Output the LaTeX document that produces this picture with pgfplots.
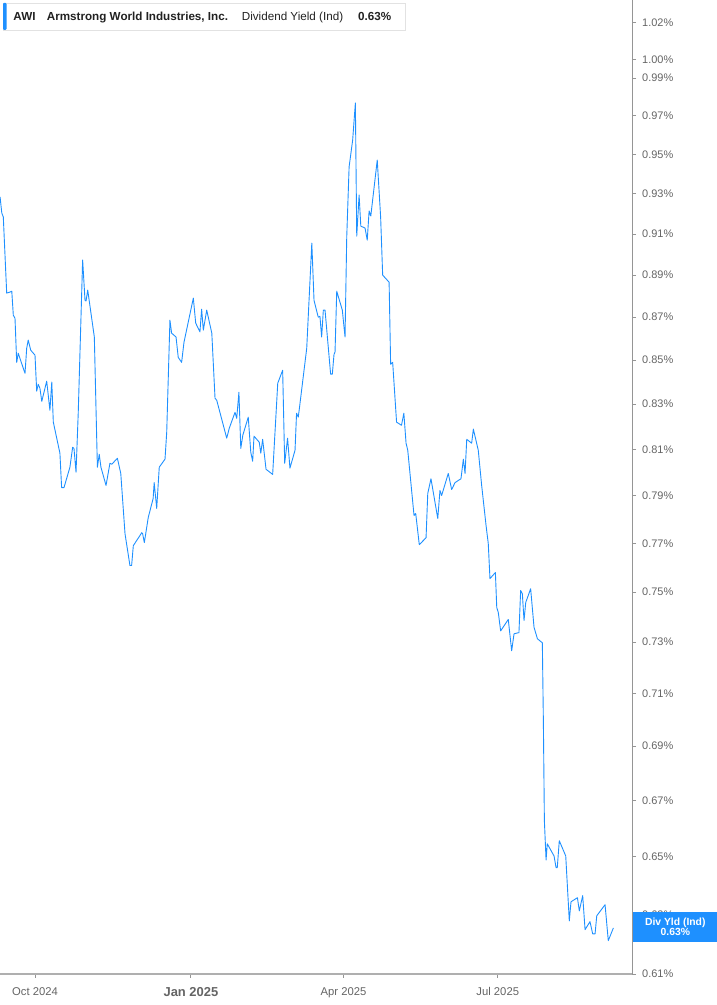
\documentclass[border=0pt]{standalone}
\usepackage{pgfplots}
\usepackage{pgfplotstable}
\pgfplotsset{compat=1.18}
\usepackage{fontspec}
\setmainfont{Liberation Sans}

\definecolor{awiblue}{RGB}{30,144,255}
\definecolor{ticktext}{RGB}{100,100,100}
\definecolor{axisgrey}{RGB}{175,175,175}
\definecolor{boxgrey}{RGB}{226,226,226}

% day = days since 1 Oct 2024, yld = dividend yield in %
\pgfplotstableread{
day yld
-20.6 0.9284
-19.6 0.9204
-18.7 0.9184
-16.7 0.8814
-14.7 0.8819
-13.7 0.8823
-12.8 0.8709
-11.8 0.8695
-10.8 0.8490
-9.9 0.8532
-5.9 0.8440
-4.9 0.8555
-4.0 0.8593
-2.5 0.8546
0.0 0.8523
1.0 0.8359
1.9 0.8390
2.9 0.8372
4.0 0.8313
6.9 0.8404
8.8 0.8273
9.9 0.8400
10.8 0.8220
14.7 0.8083
15.7 0.7935
17.1 0.7935
20.6 0.8022
22.2 0.8109
23.0 0.8104
24.2 0.8000
25.5 0.8260
28.1 0.8973
29.5 0.8780
30.1 0.8776
31.1 0.8828
35.0 0.8607
36.8 0.8022
37.9 0.8078
38.9 0.8022
41.9 0.7944
44.2 0.8039
45.3 0.8035
48.6 0.8061
50.6 0.7996
53.1 0.7740
56.0 0.7608
57.0 0.7608
58.0 0.7690
63.0 0.7744
63.5 0.7740
64.5 0.7702
66.8 0.7808
69.7 0.7888
70.3 0.7957
71.8 0.7846
73.3 0.8022
76.7 0.8057
77.7 0.8175
79.6 0.8686
80.6 0.8625
83.2 0.8607
84.5 0.8513
86.5 0.8490
87.9 0.8583
93.4 0.8790
94.8 0.8672
97.3 0.8631
98.3 0.8738
99.3 0.8639
101.3 0.8733
104.3 0.8625
106.2 0.8327
107.2 0.8318
113.1 0.8149
114.6 0.8193
118.0 0.8264
119.0 0.8237
120.3 0.8354
121.4 0.8104
122.6 0.8162
125.8 0.8242
127.3 0.8087
128.4 0.8048
129.2 0.8158
132.3 0.8131
133.2 0.8083
134.3 0.8144
136.3 0.8013
140.2 0.7992
143.2 0.8395
146.1 0.8454
147.3 0.8039
149.0 0.8149
150.4 0.8018
153.4 0.8096
154.3 0.8260
155.3 0.8242
155.9 0.8277
160.3 0.8555
161.3 0.8719
163.3 0.9055
164.6 0.8780
167.1 0.8700
168.1 0.8704
169.1 0.8607
170.1 0.8733
171.1 0.8733
174.4 0.8436
175.4 0.8436
176.4 0.8527
177.0 0.8537
178.0 0.8823
181.3 0.8733
182.9 0.8607
183.9 0.9084
185.3 0.9436
187.4 0.9574
189.0 0.9768
189.8 0.9089
191.2 0.9294
192.2 0.9139
194.7 0.9129
196.0 0.9070
197.1 0.9214
198.1 0.9189
201.9 0.9471
203.9 0.9184
205.1 0.8900
208.9 0.8866
209.8 0.8481
211.0 0.8490
213.3 0.8220
216.2 0.8206
217.6 0.8260
218.9 0.8127
219.9 0.8096
223.6 0.7816
224.6 0.7825
226.7 0.7694
230.7 0.7723
231.7 0.7910
233.6 0.7974
237.6 0.7804
238.9 0.7923
239.9 0.7901
243.8 0.7996
245.8 0.7927
247.8 0.7957
251.3 0.7974
252.7 0.8057
253.7 0.7996
254.7 0.8144
257.6 0.8127
258.6 0.8189
261.5 0.8096
263.5 0.7944
266.1 0.7774
267.4 0.7698
268.4 0.7554
271.6 0.7579
272.4 0.7437
273.3 0.7417
274.7 0.7344
279.2 0.7389
281.2 0.7265
282.6 0.7332
285.5 0.7336
286.5 0.7505
287.5 0.7493
288.5 0.7385
289.5 0.7457
292.4 0.7513
294.4 0.7357
296.4 0.7312
299.3 0.7296
299.9 0.6996
300.5 0.6627
301.5 0.6488
302.2 0.6545
306.2 0.6502
307.4 0.6461
308.1 0.6461
309.3 0.6556
313.1 0.6502
315.2 0.6278
316.2 0.6343
320.0 0.6357
321.1 0.6312
323.1 0.6364
324.5 0.6248
327.4 0.6275
329.0 0.6234
330.4 0.6234
331.4 0.6295
336.3 0.6333
338.2 0.6211
341.2 0.6254
}\yldtable

\begin{document}
\begin{tikzpicture}[x=1bp,y=1bp]
\useasboundingbox (0,-31) rectangle (717,974);
\begin{axis}[
  at={(0,0)}, anchor=south west,
  scale only axis, width=632bp, height=974bp,
  ymode=log,
  xmin=-20.65, xmax=352.2,
  ymin=0.61, ymax=1.0327,
  axis x line*=bottom, axis y line*=right,
  x axis line style={draw=axisgrey, line width=2bp},
  y axis line style={draw=axisgrey!85!black, line width=1bp},
  tick style={draw=axisgrey!85!black, line width=0.8bp},
  xtick align=outside, ytick align=outside,
  x tick style={line width=1bp},
  major tick length=4bp,
  xtick={0,92,182,273},
  xticklabels={Oct 2024,{\fontsize{13}{15}\selectfont\bfseries Jan 2025},Apr 2025,Jul 2025},
  xticklabel style={anchor=north, inner sep=0pt, yshift=-9bp, text=ticktext,
    font=\fontsize{11.3}{13}\selectfont},
  ytick={0.61,0.63,0.65,0.67,0.69,0.71,0.73,0.75,0.77,0.79,0.81,0.83,0.85,0.87,0.89,0.91,0.93,0.95,0.97,0.99,1.00,1.02},
  yticklabels={0.61\%,0.63\%,0.65\%,0.67\%,0.69\%,0.71\%,0.73\%,0.75\%,0.77\%,0.79\%,0.81\%,0.83\%,0.85\%,0.87\%,0.89\%,0.91\%,0.93\%,0.95\%,0.97\%,0.99\%,1.00\%,1.02\%},
  yticklabel style={anchor=west, inner sep=0pt, xshift=6bp, text=ticktext,
    font=\fontsize{11}{13}\selectfont},
  minor tick num=0,
  clip=true,
]
\addplot[awiblue, line width=0.9bp, line join=round] table[x=day,y=yld]{\yldtable};
\end{axis}

% legend box at the top
\draw[boxgrey, fill=white, line width=0.8bp] (3,944) rectangle (405,971);
\fill[awiblue, rounded corners=1bp] (3,944) rectangle (6.5,971);
\begin{scope}[every node/.style={anchor=base west, inner sep=0pt, text={rgb,255:red,34;green,34;blue,34},
    font=\fontsize{11.7}{14}\selectfont}]
\node at (13.3,953.3) {\bfseries AWI};
\node at (46.7,953.3) {\bfseries Armstrong World Industries, Inc.};
\node at (241.7,953.3) {Dividend Yield (Ind)};
\node at (358,953.3) {\bfseries 0.63\%};
\end{scope}

% last value tag
\fill[awiblue] (633,32) rectangle (717,62);
\node[anchor=base, inner sep=0pt, text=white, font=\fontsize{10.4}{12}\selectfont\bfseries] at (675.3,49) {Div Yld (Ind)};
\node[anchor=base, inner sep=0pt, text=white, font=\fontsize{10.4}{12}\selectfont\bfseries] at (675.3,39) {0.63\%};
\end{tikzpicture}
\end{document}
